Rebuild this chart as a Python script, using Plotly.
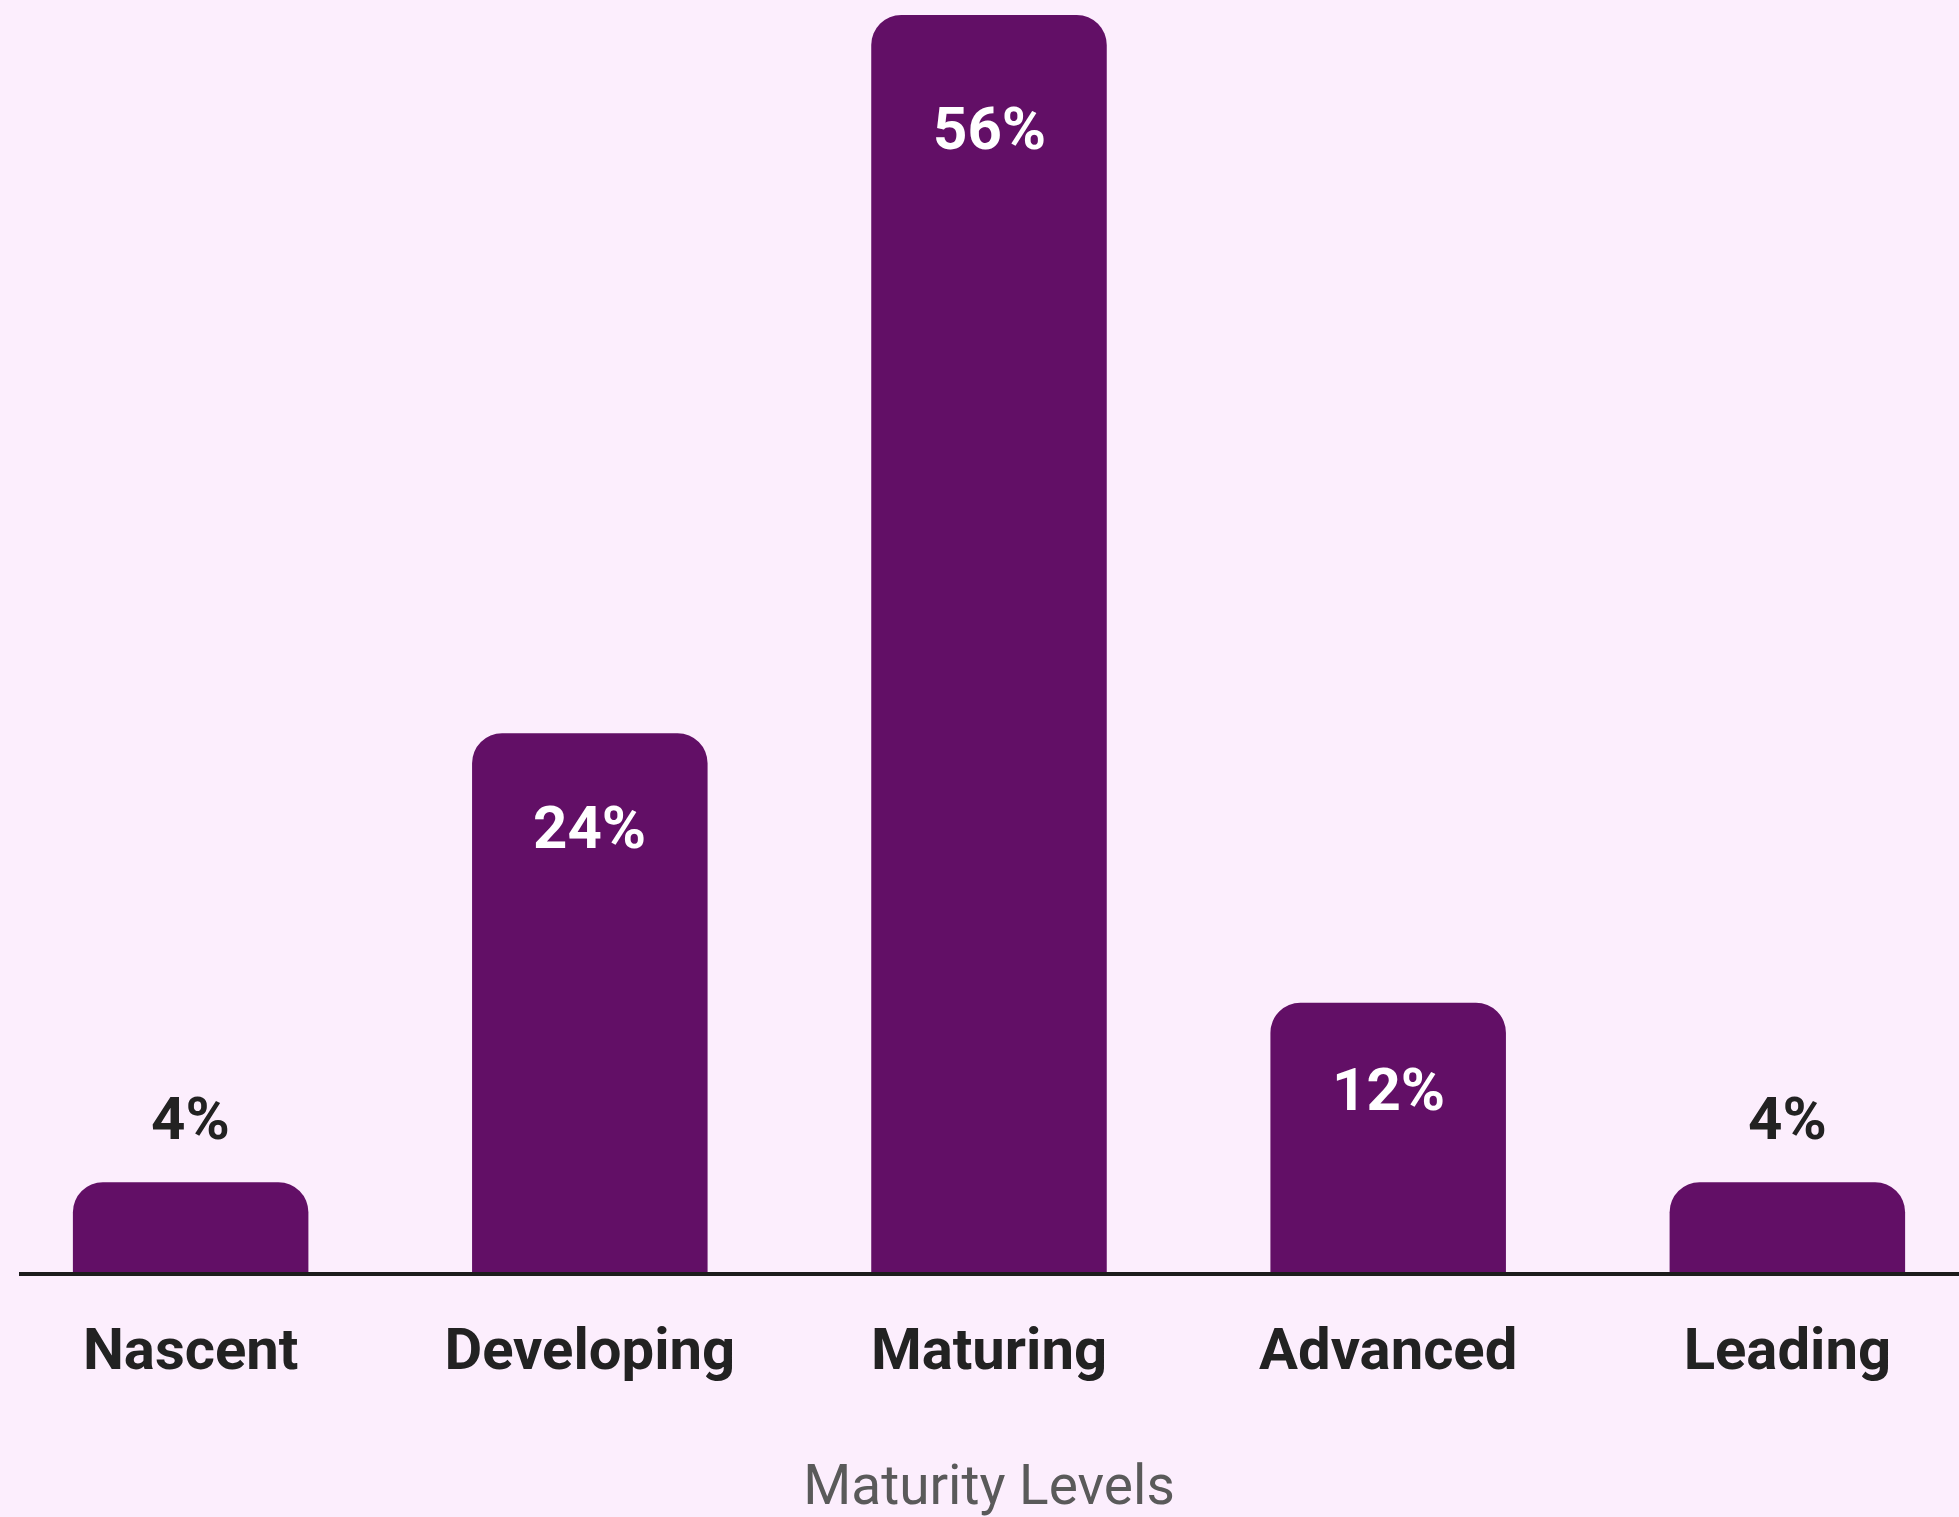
import plotly.graph_objects as go

categories = ["Nascent", "Developing", "Maturing", "Advanced", "Leading"]
values = [4, 24, 56, 12, 4]
labels = ["4%", "24%", "56%", "12%", "4%"]

BAR = "#620F66"
BG = "#FCEEFD"

fig = go.Figure()
fig.add_trace(go.Bar(
    x=categories, y=values, marker=dict(color=BAR, line=dict(width=0)),
    hoverinfo="skip", showlegend=False,
))

for cat, v, lab in zip(categories, values, labels):
    inside = v >= 10
    fig.add_annotation(
        x=cat, y=v, text=lab, showarrow=False,
        yanchor="middle", yshift=(-(80 + 0.6 * v) if inside else 64),
        font=dict(family="Roboto", size=60, color="#FFFFFF" if inside else "#222222",
                  weight="bold"),
    )

fig.update_layout(
    width=1959, height=1517,
    margin=dict(l=19, r=0, t=15, b=245),
    paper_bgcolor=BG, plot_bgcolor=BG,
    bargap=0.41, barcornerradius=30,
    xaxis=dict(
        range=[-0.43, 4.43], showgrid=False, zeroline=False,
        showline=True, linecolor="#1c1c1c", linewidth=4,
        ticks="", ticklabelstandoff=23,
        tickfont=dict(family="Roboto", size=58, color="#222222", weight="bold"),
        title=dict(text="Maturity Levels", standoff=86,
                   font=dict(family="Roboto", size=55, color="#5a5a5a")),
    ),
    yaxis=dict(range=[0, 56], visible=False, showgrid=False, zeroline=False),
)

fig.write_html("out.html")
